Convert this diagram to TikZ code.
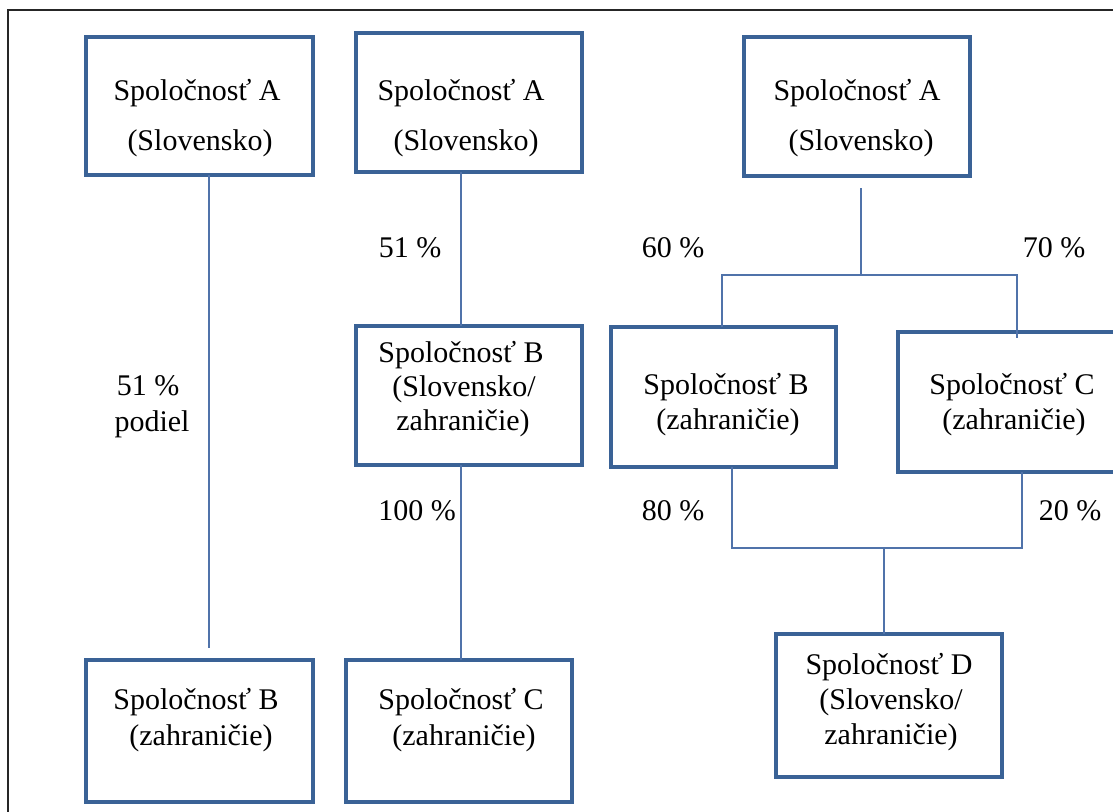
\documentclass[tikz,border=0pt]{standalone}
\usepackage{fontspec}
\setmainfont{Liberation Serif}
\definecolor{boxblue}{RGB}{58,98,150}
\definecolor{lineblue}{RGB}{80,115,170}
\begin{document}
\begin{tikzpicture}[x=1pt,y=-1pt,
  box/.style={draw=boxblue,line width=4pt,fill=white,inner sep=0pt,outer sep=0pt,rectangle},
  conn/.style={draw=lineblue,line width=1.4pt},
  txt/.style={anchor=base,inner sep=0pt,font=\fontsize{30}{34}\selectfont}]
\useasboundingbox (0,0) rectangle (1113,811);
\clip (0,0) rectangle (1113,811);
% outer frame
\draw[black!85,line width=1.8pt] (8,830) -- (8,10) -- (1130,10);
% boxes
\node[box,minimum width=227,minimum height=138] (a1) at (199.5,106) {};
\node[box,minimum width=226,minimum height=139] (a2) at (469,102.5) {};
\node[box,minimum width=226,minimum height=139] (a3) at (857,106.5) {};
\node[box,minimum width=226,minimum height=139] (b2) at (469,395.5) {};
\node[box,minimum width=227,minimum height=142] (b1) at (199.5,731) {};
\node[box,minimum width=226,minimum height=142] (c2) at (459,731) {};
\node[box,minimum width=225,minimum height=140] (b3) at (723.5,397) {};
\node[box,minimum width=250,minimum height=140] (c3) at (1023,402) {};
\node[box,minimum width=226,minimum height=143] (d) at (889,705.5) {};
% box texts
\node[txt] (a1t1) at (197,100) {Spoločnosť A};
\node[txt] (a1t2) at (200,150) {(Slovensko)};
\node[txt] (a2t1) at (461,100) {Spoločnosť A};
\node[txt] (a2t2) at (466,150) {(Slovensko)};
\node[txt] (a3t1) at (857,100) {Spoločnosť A};
\node[txt] (a3t2) at (861,150) {(Slovensko)};
\node[txt] (b2t1) at (461,362) {Spoločnosť B};
\node[txt] (b2t2) at (464,396) {(Slovensko/};
\node[txt] (b2t3) at (463,430) {zahraničie)};
\node[txt] (b3t1) at (726,394) {Spoločnosť B};
\node[txt] (b3t2) at (728,429) {(zahraničie)};
\node[txt] (c3t1) at (1012,394) {Spoločnosť C};
\node[txt] (c3t2) at (1014,429) {(zahraničie)};
\node[txt] (b1t1) at (196,709) {Spoločnosť B};
\node[txt] (b1t2) at (201,745) {(zahraničie)};
\node[txt] (c2t1) at (461,709) {Spoločnosť C};
\node[txt] (c2t2) at (464,745) {(zahraničie)};
\node[txt] (dt1) at (889,674) {Spoločnosť D};
\node[txt] (dt2) at (891,709) {(Slovensko/};
\node[txt] (dt3) at (891,744) {zahraničie)};
% percentage labels
\node[txt] (p1a) at (148,395) {51 \%};
\node[txt] (p1b) at (152,431) {podiel};
\node[txt] (p2) at (410,257) {51 \%};
\node[txt] (p3) at (417,520) {100 \%};
\node[txt] (p4) at (673,257) {60 \%};
\node[txt] (p5) at (1054,257) {70 \%};
\node[txt] (p6) at (673,520) {80 \%};
\node[txt] (p7) at (1070,520) {20 \%};
% connector coordinates
\coordinate (x1) at (209,0);
\coordinate (e1) at (209,648);
\coordinate (x2) at (461,0);
\coordinate (s3) at (861,188);
\coordinate (j3) at (861,275);
\coordinate (jl) at (722,275);
\coordinate (jr) at (1017,275);
\coordinate (xb3) at (732,0);
\coordinate (xc3) at (1022,0);
\coordinate (bl) at (732,548);
\coordinate (br) at (1022,548);
\coordinate (bm) at (884,548);
% connectors
\draw[conn] (a1.south -| x1) -- (e1);
\draw[conn] (a2.south -| x2) -- (b2.north -| x2);
\draw[conn] (b2.south -| x2) -- (c2.north -| x2);
\draw[conn] (s3) -- (j3);
\draw[conn] (b3.north -| jl) -- (jl) -- (jr) -- ([yshift=-6]c3.north -| jr);
\draw[conn] (b3.south -| xb3) -- (bl) -- (br) -- (c3.south -| xc3);
\draw[conn] (bm) -- (d.north -| bm);
\end{tikzpicture}
\end{document}
